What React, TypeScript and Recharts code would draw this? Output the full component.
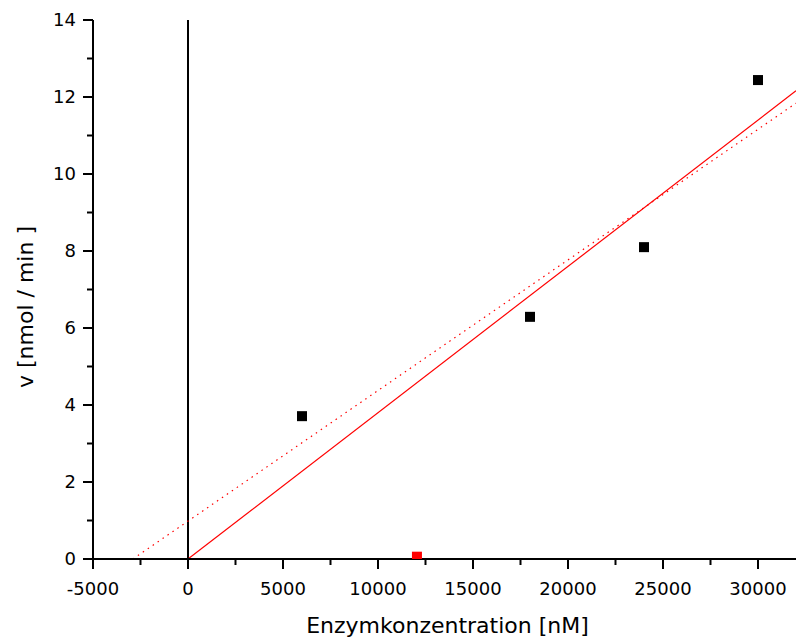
import React from "react";
import {
  ComposedChart,
  Line,
  Scatter,
  XAxis,
  YAxis,
  ReferenceLine,
  Label,
} from "recharts";

const concentrations = [6000, 18000, 24000, 30000];
const rates = [3.71, 6.29, 8.1, 12.44];
const outlierConc = [12050];
const outlierRate = [0.06];

// fit lines, end points
const solidFitX = [0, 32000];
const solidFitY = [0, 12.16];
const dottedFitX = [-2900, 32000];
const dottedFitY = [0, 11.84];

const xTicks = [
  -5000, -2500, 0, 2500, 5000, 7500, 10000, 12500, 15000, 17500, 20000,
  22500, 25000, 27500, 30000,
];
const yTicks = [0, 1, 2, 3, 4, 5, 6, 7, 8, 9, 10, 11, 12, 13, 14];

const points = concentrations.map((x, i) => ({ x, y: rates[i] }));
const outliers = outlierConc.map((x, i) => ({ x, y: outlierRate[i] }));
const solidFit = solidFitX.map((x, i) => ({ x, y: solidFitY[i] }));
const dottedFit = dottedFitX.map((x, i) => ({ x, y: dottedFitY[i] }));

const FONT = "'DejaVu Sans', sans-serif";

function XTick({ x, y, payload }: any) {
  const major = payload.value % 5000 === 0;
  return (
    <g>
      <line
        x1={x}
        x2={x}
        y1={y}
        y2={y + (major ? 10 : 6)}
        stroke="#000"
        strokeWidth={2}
      />
      {major && (
        <text
          x={x}
          y={y + 36}
          textAnchor="middle"
          fontSize={18}
          fontFamily={FONT}
          fill="#000"
        >
          {payload.value}
        </text>
      )}
    </g>
  );
}

function YTick({ x, y, payload }: any) {
  const major = payload.value % 2 === 0;
  return (
    <g>
      <line
        x1={x - (major ? 10 : 6)}
        x2={x}
        y1={y}
        y2={y}
        stroke="#000"
        strokeWidth={2}
      />
      {major && (
        <text
          x={x - 17}
          y={y}
          dy="0.36em"
          textAnchor="end"
          fontSize={18}
          fontFamily={FONT}
          fill="#000"
        >
          {payload.value}
        </text>
      )}
    </g>
  );
}

function Square(fill: string) {
  return (props: any) => {
    const { cx, cy } = props;
    if (cx == null || cy == null) return <g />;
    return <rect x={cx - 5} y={cy - 5} width={10} height={10} fill={fill} />;
  };
}

export default function App() {
  return (
    <div
      style={{
        position: "absolute",
        left: 0,
        top: 0,
        width: 796,
        height: 641,
        background: "#fff",
      }}
    >
      <ComposedChart
        width={796}
        height={641}
        margin={{ top: 20, right: 0, left: 0, bottom: 0 }}
      >
        <XAxis
          type="number"
          dataKey="x"
          domain={[-5000, 32000]}
          ticks={xTicks}
          interval={0}
          allowDataOverflow
          height={82}
          axisLine={{ stroke: "#000", strokeWidth: 2 }}
          tickLine={false}
          tickSize={0}
          tickMargin={0}
          tick={<XTick />}
        >
          <Label
            content={({ viewBox }: any) => (
              <text
                x={viewBox.x + viewBox.width / 2 + 3}
                y={viewBox.y + 74}
                textAnchor="middle"
                fontSize={22}
                fontFamily={FONT}
                fill="#000"
              >
                Enzymkonzentration [nM]
              </text>
            )}
          />
        </XAxis>
        <YAxis
          type="number"
          dataKey="y"
          domain={[0, 14]}
          ticks={yTicks}
          interval={0}
          allowDataOverflow
          width={93}
          axisLine={{ stroke: "#000", strokeWidth: 2 }}
          tickLine={false}
          tickSize={0}
          tickMargin={0}
          tick={<YTick />}
        >
          <Label
            content={() => (
              <text
                x={33}
                y={307}
                transform="rotate(-90 33 307)"
                textAnchor="middle"
                fontSize={22}
                fontFamily={FONT}
                fill="#000"
              >
                v [nmol / min ]
              </text>
            )}
          />
        </YAxis>
        <ReferenceLine x={0} stroke="#000" strokeWidth={2} />
        <Line
          data={dottedFit}
          dataKey="y"
          type="linear"
          stroke="#ff0000"
          strokeWidth={1.2}
          strokeDasharray="1.5 4.5"
          dot={false}
          activeDot={false}
          isAnimationActive={false}
        />
        <Line
          data={solidFit}
          dataKey="y"
          type="linear"
          stroke="#ff0000"
          strokeWidth={1.2}
          dot={false}
          activeDot={false}
          isAnimationActive={false}
        />
        <Scatter
          data={points}
          dataKey="y"
          shape={Square("#000")}
          isAnimationActive={false}
        />
        <Scatter
          data={outliers}
          dataKey="y"
          shape={Square("#ff0000")}
          isAnimationActive={false}
        />
      </ComposedChart>
    </div>
  );
}
